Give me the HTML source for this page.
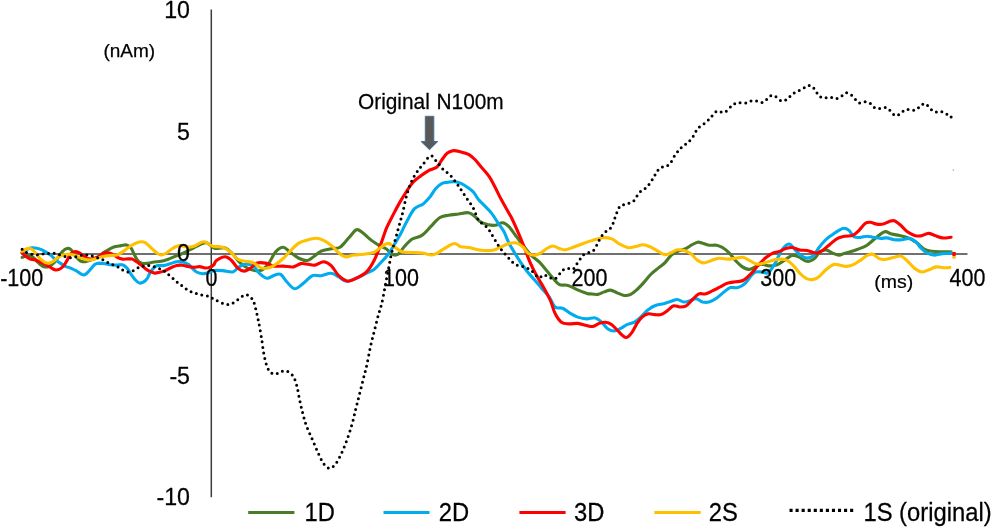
<!DOCTYPE html>
<html><head><meta charset="utf-8"><title>chart</title>
<style>
html,body{margin:0;padding:0;background:#fff;}
body{width:993px;height:527px;overflow:hidden;position:relative;font-family:"Liberation Sans",sans-serif;color:#000;}
svg{position:absolute;left:0;top:0;}
</style></head><body>
<svg width="993" height="527" viewBox="0 0 993 527">
<line x1="22" y1="254" x2="967.5" y2="254" stroke="#404040" stroke-width="1.7"/>
<line x1="211.3" y1="9.4" x2="211.3" y2="497.3" stroke="#3c3c3c" stroke-width="1.5"/>
<g fill="none" stroke-linecap="round" stroke-linejoin="round" stroke-width="3.1">
<path d="M22.1 257.4C22.9 257.1 25.3 255.7 27.1 255.6C28.8 255.5 31.1 256.1 32.8 257.0C34.4 258.0 35.7 260.0 37.0 261.3C38.3 262.6 39.3 263.9 40.6 264.8C41.9 265.8 43.4 266.7 44.9 267.0C46.3 267.2 47.6 267.0 49.1 266.3C50.7 265.5 52.6 264.2 54.1 262.7C55.6 261.2 56.9 258.9 58.4 257.0C59.8 255.1 61.2 252.7 62.6 251.3C64.1 249.9 65.6 248.8 66.9 248.5C68.2 248.1 69.3 248.4 70.5 249.2C71.6 250.0 72.8 251.9 74.0 253.4C75.2 255.0 76.4 257.1 77.6 258.4C78.8 259.7 79.8 260.7 81.1 261.3C82.4 261.8 83.7 261.9 85.4 261.7C87.1 261.5 89.2 260.5 91.1 259.9C93.0 259.2 94.9 258.8 96.8 257.7C98.7 256.7 100.6 254.8 102.5 253.4C104.4 252.1 106.3 251.0 108.2 249.9C110.0 248.8 111.7 247.8 113.8 247.0C116.0 246.3 118.8 246.0 121.0 245.6C123.1 245.3 125.0 244.6 126.6 244.9C128.3 245.3 129.7 246.3 130.9 247.8C132.1 249.2 132.7 251.4 133.8 253.4C134.8 255.5 136.0 258.2 137.3 259.9C138.6 261.5 140.0 262.5 141.6 263.1C143.1 263.7 144.5 263.6 146.6 263.4C148.6 263.2 151.5 262.4 154.0 262.0C156.4 261.7 158.7 261.8 161.1 261.3C163.5 260.8 165.8 260.0 168.2 259.2C170.6 258.4 172.9 257.3 175.3 256.3C177.7 255.4 180.0 254.6 182.4 253.5C184.8 252.4 187.2 251.1 189.5 249.9C191.9 248.8 194.5 247.4 196.6 246.4C198.8 245.3 200.7 244.1 202.3 243.5C204.0 242.9 205.2 242.5 206.6 242.8C208.0 243.2 209.4 244.7 210.9 245.7C212.3 246.6 212.7 248.1 215.1 248.5C217.5 248.9 222.3 247.0 225.2 247.9C228.2 248.9 230.3 251.7 232.8 254.2C235.3 256.8 237.4 260.5 240.4 263.1C243.3 265.6 247.1 268.1 250.5 269.4C253.8 270.6 257.6 271.5 260.5 270.6C263.5 269.8 265.6 267.5 268.1 264.3C270.6 261.2 273.2 254.6 275.7 251.7C278.2 248.9 280.9 247.2 283.2 247.2C285.6 247.2 287.0 249.9 289.6 251.7C292.1 253.5 295.4 256.6 298.4 258.0C301.3 259.5 304.7 260.8 307.2 260.5C309.7 260.3 311.2 258.3 313.5 256.8C315.8 255.2 318.1 252.6 321.1 251.2C324.0 249.9 328.0 249.4 331.2 248.7C334.3 248.0 337.1 249.0 340.0 247.2C343.0 245.4 346.1 240.7 348.8 237.8C351.6 234.9 354.1 230.6 356.4 229.8C358.7 228.9 360.2 231.0 362.7 232.8C365.2 234.6 368.8 238.3 371.5 240.4C374.3 242.5 376.6 243.9 379.1 245.4C381.6 246.9 384.6 247.7 386.7 249.2C388.8 250.7 389.9 253.4 391.7 254.2C393.6 255.1 395.8 255.6 397.9 254.3C400.0 253.1 401.9 249.3 404.2 246.8C406.6 244.2 408.9 241.1 411.8 239.2C414.7 237.3 418.7 237.5 421.9 235.4C425.1 233.3 427.8 229.5 430.7 226.6C433.7 223.6 436.6 219.6 439.6 217.7C442.5 215.9 445.2 215.9 448.4 215.2C451.5 214.6 455.1 214.4 458.5 214.0C461.8 213.5 465.8 212.3 468.6 212.7C471.3 213.1 473.0 215.0 474.9 216.5C476.8 218.0 477.8 220.2 479.9 221.5C482.0 222.9 485.0 223.9 487.5 224.6C490.0 225.2 492.5 225.6 495.1 225.3C497.6 225.0 500.3 222.6 502.6 222.8C504.9 223.0 506.6 224.3 508.9 226.6C511.2 228.9 514.0 233.3 516.5 236.7C519.0 240.0 521.5 243.6 524.1 246.8C526.6 249.9 529.1 253.1 531.6 255.6C534.2 258.1 536.7 259.4 539.2 261.9C541.7 264.4 544.5 268.0 546.8 270.7C549.1 273.5 551.0 276.0 553.1 278.3C555.2 280.6 556.9 283.4 559.4 284.6C561.9 285.8 565.3 284.5 568.2 285.4C571.2 286.2 573.9 288.3 577.0 289.6C580.2 291.0 584.9 292.7 587.1 293.4C589.4 294.1 588.6 293.8 590.4 293.9C592.2 294.1 595.6 294.8 597.9 294.4C600.2 294.1 602.1 292.6 604.2 291.9C606.3 291.2 608.4 290.0 610.5 290.1C612.6 290.3 614.7 291.8 616.9 292.7C619.0 293.5 621.1 294.8 623.2 295.2C625.3 295.6 627.4 295.7 629.5 294.9C631.6 294.2 633.5 292.6 635.8 290.6C638.1 288.7 640.8 285.8 643.3 283.1C645.9 280.3 648.4 276.8 650.9 274.2C653.4 271.7 656.2 269.8 658.5 267.9C660.8 266.0 662.7 265.0 664.8 262.9C666.9 260.8 669.0 257.2 671.1 255.3C673.2 253.4 675.1 252.6 677.4 251.5C679.7 250.5 682.7 250.1 685.0 249.0C687.3 248.0 689.2 246.4 691.3 245.2C693.4 244.1 695.7 242.5 697.6 242.2C699.5 241.9 700.7 242.7 702.6 243.2C704.5 243.7 706.6 244.9 708.9 245.2C711.2 245.6 714.2 244.8 716.5 245.2C718.8 245.6 720.7 246.5 722.8 247.7C724.9 249.0 727.0 250.7 729.1 252.8C731.2 254.9 733.3 258.1 735.4 260.4C737.5 262.6 739.5 264.9 741.7 266.4C744.0 267.9 746.6 269.3 748.8 269.4C751.0 269.6 752.9 268.1 754.8 267.2C756.8 266.3 758.2 264.4 760.6 264.1C763.1 263.9 766.7 265.8 769.5 265.9C772.2 266.0 774.3 266.0 777.0 264.9C779.8 263.8 783.4 260.9 785.9 259.4C788.4 257.8 790.1 256.0 792.2 255.6C794.3 255.2 796.4 256.0 798.5 256.9C800.6 257.7 802.9 259.9 804.8 260.6C806.7 261.4 808.2 261.6 809.9 261.1C811.5 260.7 813.2 259.7 814.9 258.1C816.6 256.6 818.1 253.2 819.9 251.8C821.8 250.5 824.1 249.8 826.2 250.0C828.4 250.3 830.5 252.2 832.6 253.1C834.7 253.9 837.0 255.0 838.9 255.1C840.8 255.2 842.0 254.1 843.9 253.6C845.8 253.0 847.9 252.5 850.2 251.8C852.5 251.1 855.1 250.3 857.8 249.3C860.5 248.2 863.9 247.2 866.6 245.5C869.3 243.8 871.9 241.1 874.2 239.2C876.5 237.3 878.6 235.4 880.5 234.1C882.4 232.9 883.6 231.6 885.5 231.6C887.4 231.6 889.5 233.5 891.8 234.1C894.2 234.8 896.7 234.8 899.4 235.4C902.1 236.0 905.3 236.7 908.2 237.9C911.2 239.2 914.3 241.1 917.1 243.0C919.8 244.9 922.1 247.9 924.6 249.3C927.2 250.7 929.3 250.9 932.2 251.3C935.1 251.7 939.1 251.7 942.3 251.8C945.4 251.9 949.7 251.8 951.1 251.8" stroke="#4A7C27"/>
<path d="M22.1 253.4C22.8 252.9 24.8 250.8 26.4 249.9C27.9 248.9 29.6 248.0 31.3 247.8C33.1 247.5 35.2 247.8 37.0 248.2C38.8 248.5 40.3 249.1 42.0 249.9C43.7 250.7 45.4 251.8 47.0 252.7C48.5 253.7 49.8 254.4 51.3 255.6C52.7 256.8 54.0 258.5 55.5 259.9C57.1 261.2 58.8 262.3 60.5 263.4C62.2 264.5 63.7 265.4 65.5 266.3C67.3 267.1 69.3 267.6 71.2 268.4C73.1 269.2 75.2 270.3 76.9 271.2C78.5 272.2 79.8 273.5 81.1 274.1C82.4 274.7 83.5 275.1 84.7 274.8C85.9 274.4 87.1 273.1 88.2 271.9C89.4 270.8 90.6 269.0 91.8 267.7C93.0 266.4 94.0 264.9 95.3 264.1C96.7 263.4 98.0 263.2 99.6 263.1C101.3 263.1 103.4 263.4 105.3 263.7C107.2 264.0 109.1 264.6 111.0 264.8C112.9 265.1 114.8 265.1 116.7 265.1C118.6 265.1 120.7 264.4 122.4 264.8C124.0 265.3 125.2 266.1 126.6 267.7C128.1 269.2 129.5 272.1 130.9 274.1C132.3 276.1 133.8 278.3 135.2 279.8C136.6 281.3 138.0 282.7 139.4 283.0C140.9 283.4 142.4 282.7 143.7 281.9C145.0 281.1 146.3 279.8 147.3 278.3C148.3 276.9 148.7 275.1 149.7 273.4C150.7 271.8 152.0 269.7 153.3 268.4C154.6 267.1 155.7 266.1 157.5 265.6C159.3 265.1 161.7 265.9 163.9 265.6C166.2 265.2 168.9 264.1 171.0 263.4C173.2 262.8 174.8 262.0 176.7 261.7C178.6 261.5 180.5 261.6 182.4 262.0C184.3 262.4 186.4 263.1 188.1 264.2C189.8 265.2 191.0 267.1 192.4 268.4C193.8 269.7 195.0 271.1 196.6 272.0C198.3 272.9 200.4 273.6 202.3 273.7C204.2 273.8 206.1 273.2 208.0 272.7C209.9 272.2 211.3 270.9 213.7 270.6C216.2 270.2 219.5 270.4 222.7 270.6C225.9 270.9 230.1 272.5 232.8 271.9C235.5 271.3 237.0 268.1 239.1 266.9C241.2 265.6 243.1 264.5 245.4 264.3C247.7 264.1 250.7 264.1 253.0 265.6C255.3 267.1 257.0 271.1 259.3 273.2C261.6 275.3 264.3 277.9 266.9 278.2C269.4 278.5 272.1 275.8 274.4 275.2C276.7 274.5 278.6 273.3 280.7 274.4C282.8 275.6 284.7 279.6 287.0 282.0C289.3 284.4 291.9 288.6 294.6 288.8C297.3 289.0 300.5 285.4 303.4 283.2C306.4 281.1 309.3 276.9 312.3 275.7C315.2 274.4 317.9 276.1 321.1 275.7C324.2 275.3 328.2 272.9 331.2 273.2C334.1 273.4 336.2 275.6 338.7 276.9C341.3 278.3 343.4 281.0 346.3 281.2C349.3 281.4 353.0 279.5 356.4 278.2C359.8 276.9 363.6 274.6 366.5 273.2C369.4 271.7 371.5 271.3 374.1 269.4C376.6 267.5 379.1 264.5 381.6 261.8C384.2 259.1 386.7 256.6 389.2 253.0C391.7 249.4 394.9 243.5 396.8 240.4C398.6 237.2 398.8 237.3 400.5 234.1C402.1 231.0 404.4 225.7 406.8 221.5C409.1 217.3 411.6 211.9 414.3 208.9C417.1 206.0 420.6 205.8 423.2 203.9C425.7 202.0 427.4 200.1 429.5 197.6C431.6 195.0 433.7 190.8 435.8 188.5C437.9 186.1 440.0 184.5 442.1 183.4C444.2 182.4 446.3 182.5 448.4 182.2C450.5 181.9 452.6 181.5 454.7 181.7C456.8 181.9 458.9 182.5 461.0 183.4C463.1 184.4 465.2 185.7 467.3 187.2C469.4 188.7 471.7 190.2 473.6 192.3C475.5 194.4 476.8 197.5 478.7 199.8C480.5 202.1 482.9 203.9 485.0 206.1C487.1 208.3 489.0 210.0 491.3 212.9C493.6 215.9 496.7 220.9 498.8 224.1C500.9 227.2 502.2 228.5 503.9 231.6C505.6 234.8 507.2 239.6 508.9 243.0C510.6 246.3 512.1 248.7 514.0 251.8C515.9 255.0 518.2 258.7 520.3 261.9C522.4 265.1 524.3 267.8 526.6 270.7C528.9 273.7 531.6 276.6 534.2 279.6C536.7 282.5 539.2 285.4 541.7 288.4C544.2 291.3 547.1 294.1 549.3 297.2C551.5 300.3 552.8 305.2 555.0 307.0C557.3 308.9 560.1 307.2 562.6 308.3C565.1 309.3 567.7 311.9 570.2 313.3C572.7 314.8 575.0 316.2 577.7 317.1C580.5 318.0 583.6 318.8 586.6 318.9C589.5 319.0 592.9 317.3 595.4 317.9C597.9 318.4 599.6 320.3 601.7 322.2C603.8 324.0 605.9 327.5 608.0 329.0C610.1 330.5 612.2 331.1 614.3 331.0C616.4 330.9 618.5 329.5 620.6 328.5C622.7 327.4 624.6 325.7 626.9 324.7C629.3 323.6 632.2 323.4 634.5 322.2C636.8 320.9 638.5 319.2 640.8 317.1C643.1 315.0 645.9 311.5 648.4 309.6C650.9 307.6 653.4 306.2 656.0 305.3C658.5 304.3 661.0 304.4 663.5 303.8C666.0 303.1 668.8 301.9 671.1 301.2C673.4 300.5 675.3 299.3 677.4 299.5C679.5 299.6 681.6 301.8 683.7 302.0C685.8 302.2 687.9 301.3 690.0 300.7C692.1 300.2 694.2 298.5 696.3 298.7C698.4 298.9 700.5 301.4 702.6 302.0C704.7 302.5 706.6 302.6 708.9 302.0C711.2 301.4 714.0 299.9 716.5 298.2C719.0 296.5 721.8 293.7 724.1 291.9C726.4 290.1 728.1 288.3 730.4 287.6C732.7 286.9 735.4 288.4 737.9 287.6C740.5 286.9 743.2 285.2 745.5 283.1C747.8 281.0 750.1 276.8 751.8 275.0C753.5 273.1 753.9 272.5 755.6 272.0C757.3 271.5 759.8 271.9 761.9 272.0C764.0 272.1 766.1 274.0 768.2 272.7C770.3 271.5 772.4 267.9 774.5 264.4C776.6 260.9 778.9 255.0 780.8 251.8C782.7 248.7 784.4 246.8 785.9 245.5C787.4 244.2 788.2 243.6 789.7 244.2C791.1 244.9 792.8 247.4 794.7 249.3C796.6 251.2 798.9 254.1 801.0 255.6C803.1 257.1 805.2 258.1 807.3 258.1C809.4 258.1 811.7 257.3 813.6 255.6C815.5 253.9 816.8 250.5 818.7 248.0C820.6 245.5 822.9 242.6 825.0 240.5C827.1 238.4 829.0 237.1 831.3 235.4C833.6 233.7 836.8 231.5 838.9 230.4C841.0 229.2 842.2 228.3 843.9 228.3C845.6 228.3 847.3 229.0 849.0 230.4C850.6 231.8 852.1 235.5 854.0 236.7C855.9 237.8 858.2 237.5 860.3 237.4C862.4 237.3 864.5 236.2 866.6 236.2C868.7 236.1 870.6 236.8 872.9 237.2C875.2 237.6 878.2 238.3 880.5 238.4C882.8 238.6 884.5 237.7 886.8 237.9C889.1 238.1 891.8 239.4 894.4 239.7C896.9 240.0 899.4 239.9 901.9 239.7C904.5 239.5 907.2 238.1 909.5 238.4C911.8 238.8 913.9 240.1 915.8 241.7C917.7 243.3 919.0 246.1 920.9 248.0C922.7 249.9 924.8 251.9 927.2 253.1C929.5 254.2 932.2 255.0 934.7 255.1C937.2 255.2 939.6 253.9 942.3 253.6C945.0 253.2 949.7 253.2 951.1 253.1" stroke="#00ACEE"/>
<path d="M22.1 252.7C22.7 253.3 24.3 255.3 25.6 256.3C27.0 257.3 28.4 258.3 29.9 258.9C31.5 259.4 33.2 259.3 34.9 259.9C36.6 260.4 38.2 261.3 39.9 262.0C41.5 262.7 43.2 263.3 44.9 264.1C46.5 264.9 48.2 266.0 49.8 267.0C51.5 267.9 53.3 269.4 54.8 269.8C56.3 270.2 57.7 270.0 59.1 269.4C60.5 268.8 62.0 267.7 63.3 266.3C64.6 264.8 65.7 262.6 66.9 260.6C68.1 258.5 69.2 255.6 70.5 254.2C71.8 252.7 73.3 252.0 74.7 251.7C76.1 251.5 77.6 252.1 79.0 252.7C80.4 253.4 81.8 254.6 83.3 255.6C84.7 256.5 86.0 257.9 87.5 258.4C89.1 259.0 90.7 259.1 92.5 258.9C94.3 258.6 96.4 257.9 98.2 257.0C100.0 256.1 101.5 254.2 103.2 253.4C104.8 252.7 106.6 252.6 108.2 252.7C109.7 252.9 110.9 253.4 112.4 254.2C114.0 254.9 115.7 256.6 117.4 257.4C119.1 258.3 120.6 258.9 122.4 259.1C124.2 259.4 126.4 258.9 128.1 258.9C129.7 258.9 130.9 258.7 132.3 259.1C133.8 259.6 135.2 260.8 136.6 261.7C138.0 262.6 139.4 263.7 140.9 264.8C142.3 265.9 143.7 267.3 145.1 268.4C146.6 269.5 148.1 270.5 149.7 271.3C151.3 272.1 153.0 273.0 154.7 273.1C156.3 273.3 157.9 272.7 159.7 272.3C161.4 271.8 163.5 271.3 165.3 270.6C167.2 269.8 169.1 268.5 171.0 267.7C172.9 266.9 174.8 266.0 176.7 265.6C178.6 265.2 180.5 265.0 182.4 265.2C184.3 265.3 186.2 266.2 188.1 266.6C190.0 267.0 191.9 267.4 193.8 267.4C195.7 267.4 197.6 266.5 199.5 266.6C201.4 266.7 203.5 267.9 205.2 268.0C206.8 268.1 208.0 268.0 209.4 267.4C210.9 266.9 212.6 266.0 213.7 264.9C214.9 263.7 214.5 261.9 216.4 260.5C218.3 259.2 222.7 256.8 225.2 256.8C227.7 256.8 229.4 258.7 231.5 260.5C233.6 262.4 235.7 266.3 237.8 268.1C239.9 269.9 242.0 271.1 244.1 271.1C246.2 271.1 248.4 269.5 250.5 268.1C252.6 266.8 254.2 263.9 256.8 263.1C259.3 262.2 262.6 262.6 265.6 263.1C268.5 263.6 271.5 265.6 274.4 266.1C277.4 266.6 280.1 266.0 283.2 266.1C286.4 266.2 290.4 267.3 293.3 266.9C296.3 266.4 298.4 264.0 300.9 263.6C303.4 263.2 306.2 264.1 308.5 264.3C310.8 264.6 312.3 265.5 314.8 265.1C317.3 264.7 320.9 261.7 323.6 261.8C326.3 261.9 328.7 263.3 331.2 265.6C333.7 267.9 336.0 273.1 338.7 275.7C341.5 278.3 344.6 280.8 347.6 281.2C350.5 281.7 353.3 279.8 356.4 278.2C359.6 276.6 363.6 274.8 366.5 271.9C369.4 269.0 371.8 265.0 374.1 260.5C376.4 256.1 378.3 250.9 380.4 245.4C382.5 239.9 384.4 233.2 386.7 227.7C389.0 222.3 391.9 217.4 394.1 212.9C396.4 208.5 398.4 204.7 400.5 201.1C402.6 197.4 404.7 194.2 406.8 191.0C408.9 187.8 410.8 184.7 413.1 182.2C415.4 179.6 418.1 177.8 420.6 175.9C423.2 174.0 425.5 172.3 428.2 170.8C430.9 169.3 434.7 168.9 437.0 167.0C439.3 165.1 440.4 161.8 442.1 159.5C443.8 157.2 445.2 154.6 447.1 153.2C449.0 151.7 451.1 150.8 453.4 150.6C455.7 150.4 458.5 151.3 461.0 151.9C463.5 152.5 466.3 153.2 468.6 154.4C470.9 155.7 472.8 157.4 474.9 159.5C477.0 161.6 478.9 164.3 481.2 167.0C483.5 169.8 486.4 172.5 488.7 175.9C491.1 179.2 493.0 183.2 495.1 187.2C497.2 191.2 498.6 194.7 501.4 199.8C504.1 204.9 508.7 212.5 511.5 217.7C514.2 223.0 515.7 226.8 517.8 231.6C519.9 236.5 522.0 241.5 524.1 246.8C526.2 252.0 528.3 258.3 530.4 263.2C532.5 268.0 534.4 271.6 536.7 275.8C539.0 280.0 541.9 284.2 544.2 288.4C546.6 292.6 548.8 296.8 550.6 301.0C552.4 305.2 553.2 309.8 555.0 313.3C556.8 316.9 559.0 320.4 561.4 322.2C563.7 323.9 566.2 323.7 568.9 323.9C571.7 324.1 574.8 323.2 577.7 323.4C580.7 323.7 584.1 324.9 586.6 325.4C589.1 326.0 590.8 326.8 592.9 326.5C595.0 326.1 597.1 324.1 599.2 323.4C601.3 322.7 603.4 322.0 605.5 322.2C607.6 322.4 609.7 323.2 611.8 324.7C613.9 326.2 616.2 329.1 618.1 331.0C620.0 332.9 621.7 335.0 623.2 336.0C624.6 337.1 625.5 337.9 626.9 337.3C628.4 336.7 630.3 334.6 632.0 332.3C633.7 329.9 635.4 326.0 637.0 323.4C638.7 320.9 640.2 318.7 642.1 317.1C644.0 315.5 646.3 314.3 648.4 313.8C650.5 313.4 652.6 314.5 654.7 314.6C656.8 314.7 658.9 315.2 661.0 314.6C663.1 314.0 665.2 312.3 667.3 310.8C669.4 309.3 671.5 306.4 673.6 305.8C675.7 305.1 677.8 307.0 679.9 307.0C682.0 307.0 684.1 307.0 686.2 305.8C688.3 304.5 690.4 301.4 692.5 299.5C694.6 297.5 696.7 294.8 698.8 293.9C700.9 293.0 702.8 294.5 705.1 293.9C707.5 293.4 710.2 291.8 712.7 290.6C715.2 289.5 717.8 288.1 720.3 286.9C722.8 285.6 725.3 283.9 727.9 283.1C730.4 282.2 732.9 282.2 735.4 281.8C737.9 281.4 740.5 281.8 743.0 280.5C745.5 279.3 748.0 276.8 750.6 274.2C753.1 271.7 755.6 268.1 758.1 265.4C760.6 262.7 763.2 259.9 765.7 257.8C768.2 255.7 771.2 253.8 773.3 252.8C775.4 251.8 776.2 252.5 778.3 251.8C780.4 251.1 783.6 249.2 785.9 248.5C788.2 247.8 789.9 247.3 792.2 247.5C794.5 247.8 797.2 249.5 799.8 250.0C802.3 250.5 804.6 250.0 807.3 250.5C810.1 251.0 813.6 253.1 816.2 253.1C818.7 253.1 820.2 252.0 822.5 250.5C824.8 249.1 827.5 246.3 830.0 244.2C832.6 242.2 835.1 239.8 837.6 238.4C840.1 237.1 842.6 236.7 845.2 236.2C847.7 235.7 850.4 236.4 852.7 235.4C855.1 234.4 856.9 232.4 859.0 230.4C861.1 228.3 863.5 224.6 865.4 223.3C867.2 222.0 868.5 222.2 870.4 222.3C872.3 222.4 874.6 223.8 876.7 224.1C878.8 224.4 880.9 224.5 883.0 224.1C885.1 223.6 887.4 222.1 889.3 221.5C891.2 221.0 892.5 220.1 894.4 220.8C896.3 221.4 898.6 223.5 900.7 225.3C902.8 227.1 904.7 229.9 907.0 231.6C909.3 233.3 912.2 234.7 914.5 235.4C916.9 236.1 918.5 236.2 920.9 235.9C923.2 235.6 926.1 233.5 928.4 233.4C930.7 233.3 932.4 234.7 934.7 235.4C937.0 236.2 939.6 237.6 942.3 237.9C945.0 238.2 949.7 237.3 951.1 237.2" stroke="#FF0000"/>
<path d="M22.1 251.3C22.7 251.0 24.3 249.7 25.6 249.2C27.0 248.7 28.6 248.2 29.9 248.5C31.2 248.7 32.3 249.5 33.5 250.6C34.7 251.7 35.8 253.4 37.0 254.9C38.2 256.3 39.3 257.9 40.6 259.1C41.9 260.4 43.4 261.6 44.9 262.3C46.3 262.9 47.7 263.3 49.1 263.1C50.5 263.0 52.0 262.2 53.4 261.3C54.8 260.3 56.1 258.5 57.7 257.4C59.2 256.4 60.9 255.4 62.6 254.9C64.4 254.3 66.4 254.2 68.3 254.2C70.2 254.2 72.1 254.3 74.0 254.9C75.9 255.4 77.8 256.7 79.7 257.4C81.6 258.2 83.5 259.0 85.4 259.4C87.3 259.8 89.2 260.0 91.1 259.9C93.0 259.7 94.9 259.0 96.8 258.4C98.7 257.9 100.3 257.1 102.5 256.6C104.6 256.1 107.2 255.9 109.6 255.6C111.9 255.3 114.6 255.5 116.7 254.9C118.8 254.3 120.5 253.2 122.4 252.0C124.3 250.8 126.2 249.1 128.1 247.8C130.0 246.5 131.9 245.2 133.8 244.2C135.7 243.3 137.8 242.4 139.4 242.1C141.1 241.7 142.4 241.7 143.7 242.1C145.0 242.4 145.8 243.0 147.3 244.2C148.7 245.4 150.8 247.7 152.5 249.2C154.3 250.8 156.0 252.5 157.5 253.5C159.1 254.4 160.3 255.0 161.8 254.9C163.3 254.8 165.0 253.8 166.8 252.8C168.5 251.7 170.6 249.7 172.5 248.5C174.4 247.3 176.3 246.0 178.2 245.7C180.0 245.3 181.9 246.1 183.8 246.4C185.7 246.6 187.6 247.2 189.5 247.1C191.4 247.0 193.4 246.4 195.2 245.7C197.0 245.0 198.7 243.5 200.2 242.8C201.7 242.2 203.0 241.6 204.5 241.8C205.9 242.1 207.2 243.5 208.7 244.2C210.3 245.0 211.4 245.9 213.7 246.4C216.0 246.9 219.9 246.3 222.7 247.2C225.5 248.1 227.7 249.7 230.3 251.7C232.8 253.7 235.3 257.7 237.8 259.3C240.4 260.9 242.9 260.8 245.4 261.3C247.9 261.8 250.5 261.5 253.0 262.6C255.5 263.6 258.0 266.7 260.5 267.6C263.1 268.5 265.6 268.7 268.1 268.1C270.6 267.6 273.2 265.9 275.7 264.3C278.2 262.7 280.7 260.8 283.2 258.5C285.8 256.2 288.3 253.0 290.8 250.5C293.3 247.9 295.9 245.1 298.4 243.4C300.9 241.7 303.0 241.2 306.0 240.4C308.9 239.5 313.1 238.3 316.0 238.3C319.0 238.3 321.1 239.2 323.6 240.4C326.1 241.5 328.9 243.5 331.2 245.4C333.5 247.3 335.2 249.8 337.5 251.7C339.8 253.6 342.3 256.2 345.1 256.8C347.8 257.3 350.7 255.4 353.9 255.0C357.0 254.6 360.6 254.7 364.0 254.2C367.3 253.8 371.1 253.5 374.1 252.2C377.0 251.0 379.3 248.1 381.6 246.7C383.9 245.2 385.8 243.4 387.9 243.4C390.0 243.4 391.9 245.3 394.2 246.7C396.6 248.1 398.9 250.7 401.8 251.7C404.8 252.7 408.5 252.3 411.9 252.5C415.3 252.7 418.6 252.6 422.0 253.0C425.4 253.4 429.1 255.2 432.1 255.0C435.0 254.8 437.2 253.1 439.7 251.7C442.2 250.3 444.6 248.1 447.1 246.8C449.6 245.4 452.4 243.5 454.7 243.5C457.0 243.5 458.7 246.1 461.0 246.8C463.3 247.4 466.0 247.1 468.6 247.5C471.1 247.9 473.6 248.8 476.1 249.3C478.7 249.8 480.8 250.4 483.7 250.5C486.6 250.7 490.9 250.7 493.8 250.0C496.7 249.4 498.8 247.9 501.4 246.8C503.9 245.7 506.4 244.1 508.9 243.5C511.5 242.9 514.2 242.4 516.5 243.0C518.8 243.5 520.9 245.1 522.8 246.8C524.7 248.4 526.0 251.7 527.9 253.1C529.7 254.5 532.1 255.1 534.2 255.1C536.3 255.1 538.4 254.2 540.5 253.1C542.6 252.0 544.7 249.7 546.8 248.5C548.9 247.3 551.0 246.0 553.1 246.0C555.2 246.0 557.3 247.9 559.4 248.5C561.5 249.2 563.2 250.1 565.7 249.8C568.2 249.5 571.4 247.9 574.5 246.8C577.7 245.6 581.7 244.0 584.6 243.0C587.6 241.9 589.1 241.3 592.2 240.5C595.2 239.6 599.7 237.9 603.0 237.7C606.2 237.4 609.1 237.9 611.8 238.9C614.5 240.0 616.6 242.5 619.4 244.0C622.1 245.4 625.5 247.3 628.2 247.7C630.9 248.2 633.2 247.0 635.8 246.5C638.3 246.0 640.8 244.6 643.3 244.7C645.9 244.8 648.4 246.1 650.9 247.2C653.4 248.4 656.2 250.3 658.5 251.5C660.8 252.8 662.7 254.6 664.8 254.8C666.9 255.0 669.0 253.6 671.1 252.8C673.2 252.0 675.1 250.1 677.4 249.8C679.7 249.4 682.7 250.1 685.0 250.8C687.3 251.5 689.2 252.5 691.3 254.1C693.4 255.7 695.5 258.9 697.6 260.4C699.7 261.8 701.6 262.9 703.9 262.9C706.2 262.9 708.9 261.1 711.5 260.4C714.0 259.6 716.3 258.6 719.0 258.3C721.8 258.1 725.1 259.1 727.9 259.1C730.6 259.1 732.9 258.6 735.4 258.3C737.9 258.1 740.7 257.0 743.0 257.3C745.3 257.7 747.0 259.2 749.3 260.4C751.6 261.5 754.3 263.7 756.9 264.1C759.4 264.6 761.9 263.5 764.4 262.9C767.0 262.3 769.5 261.0 772.0 260.4C774.5 259.7 777.0 259.1 779.6 259.1C782.1 259.1 784.8 259.3 787.1 260.4C789.4 261.5 791.3 263.5 793.5 265.7C795.6 267.8 797.7 271.1 799.8 273.2C801.9 275.4 804.0 277.2 806.1 278.3C808.2 279.3 810.3 279.8 812.4 279.6C814.5 279.3 816.4 278.7 818.7 277.0C821.0 275.4 823.7 271.6 826.2 269.5C828.8 267.4 831.5 265.1 833.8 264.4C836.1 263.7 838.0 264.8 840.1 265.2C842.2 265.5 844.1 266.6 846.4 266.4C848.7 266.3 851.5 265.6 854.0 264.4C856.5 263.2 859.3 260.9 861.6 259.4C863.9 257.8 866.0 255.9 867.9 255.1C869.8 254.2 871.0 253.7 872.9 254.3C874.8 254.9 877.1 257.8 879.2 258.6C881.3 259.5 883.2 259.5 885.5 259.4C887.8 259.2 890.6 258.2 893.1 257.6C895.6 257.1 898.4 255.6 900.7 256.1C903.0 256.6 904.7 258.6 907.0 260.6C909.3 262.7 912.0 266.3 914.5 268.2C917.1 270.1 919.6 271.8 922.1 272.0C924.6 272.2 927.4 270.3 929.7 269.5C932.0 268.6 933.7 267.2 936.0 266.9C938.3 266.6 941.2 267.6 943.6 267.7C945.9 267.8 948.8 267.5 949.9 267.4" stroke="#FFC000"/>
<path d="M22.1 249.2C22.7 249.7 24.1 251.2 25.6 252.0C27.2 252.9 29.4 253.7 31.3 254.2C33.2 254.6 35.0 254.9 37.0 254.9C39.0 254.8 41.4 254.1 43.4 253.9C45.4 253.6 47.2 253.5 49.1 253.4C51.0 253.4 52.9 253.2 54.8 253.4C56.7 253.7 58.5 254.6 60.5 255.2C62.5 255.7 64.9 256.6 66.9 257.0C68.9 257.4 70.6 258.0 72.6 257.7C74.6 257.5 77.0 256.1 79.0 255.6C81.0 255.1 82.8 254.9 84.7 254.9C86.6 254.9 88.5 255.2 90.4 255.6C92.3 256.0 94.2 256.8 96.1 257.4C98.0 258.0 99.9 258.3 101.7 259.1C103.6 259.9 105.7 261.4 107.4 262.3C109.2 263.2 110.6 263.8 112.4 264.5C114.2 265.3 116.3 266.0 118.1 267.0C119.9 267.9 121.3 269.4 123.1 270.2C124.9 271.1 127.0 272.2 128.8 272.2C130.6 272.3 132.0 271.4 133.8 270.5C135.5 269.6 137.7 267.7 139.4 267.0C141.2 266.2 142.6 266.2 144.4 266.0C146.3 265.7 148.3 265.3 150.4 265.6C152.5 265.9 154.8 267.0 156.8 267.7C158.8 268.4 160.8 268.9 162.5 269.9C164.2 270.8 165.2 271.9 166.8 273.1C168.3 274.4 170.2 276.0 171.7 277.4C173.3 278.7 174.5 280.0 176.0 281.2C177.6 282.5 179.3 283.8 181.0 285.1C182.7 286.3 184.3 287.7 186.0 288.8C187.6 289.9 189.2 290.8 191.0 291.6C192.7 292.4 194.7 293.0 196.6 293.6C198.5 294.2 200.4 294.6 202.3 295.0C204.2 295.5 206.5 295.7 208.0 296.2C209.5 296.6 210.2 297.3 211.4 297.9C212.5 298.5 213.2 298.7 215.1 299.6C217.0 300.6 220.2 302.7 222.7 303.4C225.2 304.2 227.7 304.8 230.3 304.2C232.8 303.6 235.5 301.2 237.8 299.6C240.2 298.1 242.3 295.7 244.1 295.1C246.0 294.5 247.7 295.0 249.2 295.9C250.7 296.7 252.0 298.7 253.0 300.4C253.9 302.1 254.4 303.8 255.0 306.0C255.6 308.1 256.1 310.7 256.8 313.5C257.4 316.3 258.0 318.7 258.8 322.8C259.6 326.8 260.6 332.9 261.5 337.9C262.3 343.0 262.9 348.7 263.7 353.1C264.6 357.5 265.3 361.3 266.4 364.5C267.5 367.7 268.6 370.5 270.2 372.1C271.8 373.7 274.0 374.1 275.9 374.0C277.8 373.8 279.7 371.8 281.6 371.3C283.5 370.9 285.4 370.6 287.3 371.3C289.2 372.1 291.4 373.5 292.9 375.9C294.5 378.2 295.7 381.6 296.7 385.4C297.8 389.2 298.4 394.2 299.4 398.6C300.3 403.1 301.3 407.5 302.4 411.9C303.6 416.3 304.6 420.8 306.2 425.2C307.8 429.6 310.0 434.0 311.9 438.5C313.8 442.9 315.7 447.6 317.6 451.7C319.5 455.9 321.4 460.4 323.3 463.1C325.2 465.8 327.1 467.7 329.0 468.1C330.9 468.4 332.8 467.1 334.7 465.0C336.6 462.9 338.5 459.3 340.4 455.5C342.3 451.7 344.2 447.3 346.1 442.3C348.0 437.2 350.2 430.6 351.7 425.2C353.3 419.8 354.3 415.1 355.5 410.0C356.8 405.0 358.1 399.9 359.3 394.8C360.6 389.8 361.9 384.7 363.1 379.7C364.4 374.6 365.7 370.2 366.9 364.5C368.2 358.8 369.4 351.2 370.7 345.5C372.0 339.8 373.2 335.4 374.5 330.3C375.8 325.3 377.0 319.9 378.3 315.2C379.6 310.4 380.7 308.0 382.1 301.9C383.5 295.8 385.4 284.3 386.6 278.3C387.7 272.3 388.3 269.9 389.1 265.7C389.9 261.5 390.6 257.5 391.6 253.1C392.7 248.7 394.1 243.8 395.4 239.2C396.7 234.6 397.9 229.9 399.2 225.3C400.5 220.7 401.7 216.5 403.0 211.4C404.2 206.4 405.3 199.9 406.8 194.8C408.2 189.7 410.1 184.7 411.8 180.9C413.5 177.1 415.0 174.9 416.9 172.1C418.7 169.3 420.8 166.7 423.2 164.0C425.5 161.3 428.4 156.0 430.7 155.7C433.0 155.3 434.9 159.7 437.0 162.0C439.1 164.3 441.0 167.2 443.3 169.6C445.7 171.9 448.4 173.1 450.9 175.9C453.4 178.6 456.0 182.4 458.5 186.0C461.0 189.5 463.5 193.5 466.0 197.3C468.6 201.1 471.5 204.8 473.6 208.7C475.7 212.5 476.3 217.1 478.7 220.3C481.0 223.5 485.0 224.9 487.5 227.8C490.0 230.8 491.7 234.6 493.8 237.9C495.9 241.3 497.8 244.9 500.1 248.0C502.4 251.2 505.1 254.1 507.7 256.9C510.2 259.6 512.5 262.7 515.2 264.4C518.0 266.1 521.3 265.9 524.1 266.9C526.8 268.0 529.2 268.9 531.6 270.7C534.0 272.5 536.6 277.0 538.5 277.6C540.5 278.3 541.9 274.9 543.5 274.8C545.2 274.7 546.7 276.2 548.5 276.9C550.3 277.6 552.5 279.3 554.2 279.1C555.8 278.8 557.1 276.9 558.4 275.5C559.8 274.1 560.5 272.0 562.0 270.8C563.5 269.6 565.5 268.6 567.3 268.4C569.0 268.1 571.2 270.0 572.7 269.4C574.2 268.8 575.0 266.5 576.2 264.8C577.4 263.2 578.6 261.2 579.8 259.6C581.0 257.9 581.9 256.0 583.3 254.9C584.8 253.7 586.7 253.4 588.3 252.7C590.0 252.0 591.9 251.9 593.3 250.6C594.7 249.3 595.8 246.8 596.9 244.9C597.9 243.0 598.8 240.9 599.7 239.2C600.6 237.6 601.4 236.4 602.5 235.0C603.7 233.5 605.3 232.1 606.8 230.7C608.4 229.3 610.2 229.3 611.8 226.4C613.4 223.6 615.0 217.0 616.4 213.6C617.8 210.2 618.6 207.6 620.2 206.1C621.8 204.5 623.7 205.0 625.9 204.2C628.1 203.3 631.2 203.0 633.5 201.1C635.7 199.2 636.9 195.1 639.2 192.8C641.4 190.4 644.5 189.3 646.7 187.1C649.0 184.9 650.5 182.3 652.4 179.5C654.3 176.7 656.2 172.2 658.1 170.0C660.0 167.8 661.9 167.2 663.8 166.2C665.7 165.3 667.6 166.2 669.5 164.3C671.4 162.4 673.3 157.6 675.2 154.8C677.1 152.1 679.0 149.9 680.9 148.0C682.8 146.1 684.7 145.2 686.6 143.5C688.5 141.8 690.4 140.3 692.3 137.8C694.2 135.2 695.7 130.8 698.0 128.3C700.2 125.8 703.3 124.5 705.5 122.6C707.8 120.7 709.3 118.8 711.2 116.9C713.1 115.0 714.7 112.0 716.9 111.2C719.1 110.5 722.0 113.3 724.5 112.4C727.0 111.4 729.9 107.1 732.1 105.5C734.3 103.9 735.5 103.3 737.8 102.9C740.0 102.4 743.3 103.3 745.5 103.0C747.7 102.7 749.2 101.3 751.1 101.0C753.0 100.6 755.0 100.7 756.9 101.0C758.8 101.2 760.7 102.8 762.4 102.5C764.1 102.2 765.5 100.4 767.0 99.2C768.5 98.0 769.9 95.7 771.5 95.4C773.1 95.1 774.9 96.2 776.6 97.2C778.2 98.1 779.8 100.6 781.6 101.0C783.4 101.3 785.5 100.2 787.1 99.2C788.8 98.2 789.9 96.2 791.4 94.9C793.0 93.6 794.7 92.6 796.5 91.6C798.3 90.7 800.6 90.0 802.3 89.1C804.0 88.2 805.2 86.6 806.8 86.1C808.4 85.6 810.4 85.3 811.9 86.1C813.3 86.9 814.4 89.2 815.7 90.9C816.9 92.5 817.8 94.7 819.2 95.9C820.6 97.1 822.4 97.7 824.2 97.9C826.0 98.1 828.1 97.0 830.0 97.2C832.0 97.3 833.9 98.9 835.8 98.7C837.7 98.5 839.7 97.1 841.4 96.2C843.1 95.2 844.3 93.1 845.9 92.9C847.5 92.6 849.4 93.6 851.0 94.7C852.5 95.7 853.8 97.8 855.3 99.2C856.7 100.6 857.9 102.6 859.5 103.0C861.2 103.4 863.5 101.6 865.4 101.7C867.2 101.8 868.8 102.4 870.4 103.5C872.0 104.5 873.3 107.2 874.9 108.0C876.6 108.9 878.6 108.6 880.5 108.5C882.3 108.4 884.4 107.1 886.0 107.5C887.7 107.9 889.1 109.7 890.6 111.0C892.1 112.4 893.5 115.1 895.1 115.6C896.7 116.1 898.5 114.8 900.2 113.8C901.8 112.9 903.3 110.5 905.0 109.8C906.6 109.1 908.4 109.7 910.3 109.8C912.1 109.8 914.0 110.8 915.8 110.0C917.6 109.3 919.3 106.6 920.9 105.5C922.4 104.4 923.9 103.3 925.4 103.7C926.9 104.2 928.1 106.7 929.7 108.0C931.2 109.4 933.0 111.3 934.7 111.8C936.5 112.4 938.4 111.0 940.3 111.3C942.2 111.6 944.3 112.9 946.1 113.8C947.9 114.7 950.3 116.3 951.1 116.9" stroke="#000" stroke-width="3" stroke-dasharray="0 5.6"/>
</g>
<circle cx="951.1" cy="116.9" r="1.5" fill="#000"/><rect x="952.4" y="252" width="3.3" height="4.4" fill="#FF0000"/><rect x="952.4" y="256.4" width="3.3" height="2.3" fill="#FFC000"/><rect x="952.8" y="169.6" width="1" height="1" fill="#666"/>
<path d="M425.3 116.3H433.8V141.5H437.8L429.5 149.7L421.1 141.5H425.3Z" fill="#595959" stroke="#41719C" stroke-width="1"/>
<g fill="none" stroke-width="3">
<line x1="248.2" y1="512.4" x2="294.4" y2="512.4" stroke="#4A7C27"/>
<line x1="383.5" y1="512.4" x2="429.5" y2="512.4" stroke="#00ACEE"/>
<line x1="519.4" y1="512.4" x2="565.6" y2="512.4" stroke="#FF0000"/>
<line x1="654.4" y1="512.4" x2="700.7" y2="512.4" stroke="#FFC000"/>
<line x1="789.5" y1="510.4" x2="853.2" y2="510.4" stroke="#000" stroke-width="3.2" stroke-dasharray="3.1 2.96" stroke-linecap="butt"/>
</g>
<g font-family="Liberation Sans, sans-serif" fill="#000" stroke="#000" stroke-width="0.25" opacity="0.999">
<text transform="translate(190.0 17.8) scale(1 1.055)" font-size="23.2" text-anchor="end">10</text>
<text transform="translate(190.0 139.9) scale(1 1.055)" font-size="23.2" text-anchor="end">5</text>
<text transform="translate(190.0 260.7) scale(1 1.055)" font-size="23.2" text-anchor="end">0</text>
<text transform="translate(190.0 384.1) scale(1 1.055)" font-size="23.2" text-anchor="end">-5</text>
<text transform="translate(190.0 505.3) scale(1 1.055)" font-size="23.2" text-anchor="end">-10</text>
<text transform="translate(0.2 285.7) scale(1 1.08)" font-size="21.5" text-anchor="start">-100</text>
<text transform="translate(205.5 285.7) scale(1 1.08)" font-size="21.5" text-anchor="start">0</text>
<text transform="translate(383 285.7) scale(1 1.08)" font-size="21.5" text-anchor="start">100</text>
<text transform="translate(571.5 285.7) scale(1 1.08)" font-size="21.5" text-anchor="start">200</text>
<text transform="translate(760.3 285.7) scale(1 1.08)" font-size="21.5" text-anchor="start">300</text>
<text transform="translate(949.5 285.7) scale(1 1.08)" font-size="21.5" text-anchor="start">400</text>
<text transform="translate(103.4 57.2) scale(1 1)" font-size="19" text-anchor="start">(nAm)</text>
<text transform="translate(874.2 288.3) scale(1 0.98)" font-size="19.5" text-anchor="start">(ms)</text>
<text transform="translate(358 109.2) scale(1 1.03)" font-size="20.85" word-spacing="0.9" text-anchor="start">Original N100m</text>
<text transform="translate(304.5 520.9) scale(1 1.1)" font-size="23.8" text-anchor="start">1D</text>
<text transform="translate(438.7 520.9) scale(1 1.1)" font-size="23.8" text-anchor="start">2D</text>
<text transform="translate(574 520.9) scale(1 1.1)" font-size="23.8" text-anchor="start">3D</text>
<text transform="translate(708.8 520.9) scale(1 1.1)" font-size="23.8" text-anchor="start">2S</text>
<text transform="translate(863.4 520.9) scale(1 1.1)" font-size="23.8" text-anchor="start">1S (original)</text>
</g>
</svg>
</body></html>
